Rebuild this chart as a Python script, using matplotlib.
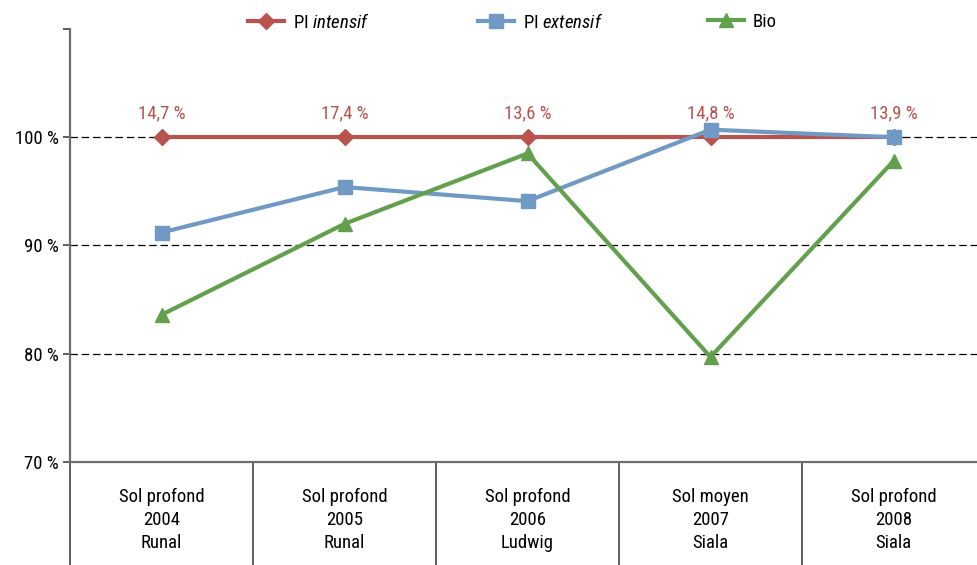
import matplotlib.pyplot as plt
from matplotlib.ticker import FixedLocator, NullFormatter
from matplotlib.lines import Line2D
import matplotlib.font_manager as fm

# narrow sans if one is available
names = {f.name for f in fm.fontManager.ttflist}
font = 'Liberation Sans'
for cand in ['Roboto Condensed', 'Open Sans Condensed', 'Liberation Sans Narrow', 'Roboto']:
    if cand in names:
        font = cand
        break
plt.rcParams['font.family'] = [font, 'DejaVu Sans']
plt.rcParams['mathtext.fontset'] = 'custom'
plt.rcParams['mathtext.it'] = font + ':italic'
plt.rcParams['mathtext.rm'] = font

categories = ['Sol profond\n2004\nRunal', 'Sol profond\n2005\nRunal',
              'Sol profond\n2006\nLudwig', 'Sol moyen\n2007\nSiala',
              'Sol profond\n2008\nSiala']
pi_intensif = [100, 100, 100, 100, 100]
pi_extensif = [91.2, 95.4, 94.1, 100.7, 100.0]
bio = [83.6, 92.0, 98.5, 79.7, 97.8]
taux = ['14,7 %', '17,4 %', '13,6 %', '14,8 %', '13,9 %']

red = '#b9534d'
blue = '#7099c3'
green = '#62a04e'
fs = 13.5

fig = plt.figure(figsize=(9.77, 5.65), dpi=100)
ax = fig.add_axes([70 / 977, 103 / 565, 915 / 977, 433 / 565])
x = range(len(categories))

l1, = ax.plot(x, pi_intensif, color=red, lw=3, marker='D', ms=8.5, zorder=3)
l2, = ax.plot(x, pi_extensif, color=blue, lw=3, marker='s', ms=9.5, zorder=4)
l3, = ax.plot(x, bio, color=green, lw=3, marker='^', ms=10.5, zorder=5)

for i, t in enumerate(taux):
    ax.text(i, pi_intensif[i] + 2.2, t, color=red, ha='center', va='center', fontsize=fs)

ax.set_xlim(-0.5, len(categories) - 0.5)
ax.set_ylim(70, 110)
ax.set_yticks([70, 80, 90, 100, 110])
ax.set_yticklabels(['70 %', '80 %', '90 %', '100 %', ''])
for y in [80, 90, 100]:
    ax.axhline(y, color='black', lw=0.9, ls=(0, (6, 3)), zorder=1)

ax.set_xticks(list(x))
ax.set_xticklabels(categories, fontsize=fs, linespacing=1.35)
ax.tick_params(axis='x', which='major', length=0, pad=19)
ax.xaxis.set_minor_locator(FixedLocator([i - 0.5 for i in range(len(categories) + 1)]))
ax.xaxis.set_minor_formatter(NullFormatter())
ax.tick_params(axis='x', which='minor', length=75, width=1.1, color='#333333', direction='out')
ax.tick_params(axis='y', length=5, width=1.1, color='#333333', labelsize=fs, pad=3)

for s in ['top', 'right']:
    ax.spines[s].set_visible(False)
for s in ['left', 'bottom']:
    ax.spines[s].set_color('#6e6e6e')
    ax.spines[s].set_linewidth(1.6)

# legend entries sit in equal-width slots
entries = [(l1, r'PI $\it{intensif}$'), (l2, r'PI $\it{extensif}$'), (l3, 'Bio')]
for k, (h, lab) in enumerate(entries):
    proxy = Line2D([], [], color=h.get_color(), lw=3, marker=h.get_marker(),
                   ms=h.get_markersize())
    fig.legend([proxy], [lab], loc='center left', bbox_to_anchor=((248 + 230 * k) / 977, 0.961),
               frameon=False, fontsize=fs, handlelength=1.9, handletextpad=0.5,
               borderpad=0, borderaxespad=0)

fig.savefig('out.png', dpi=100)
